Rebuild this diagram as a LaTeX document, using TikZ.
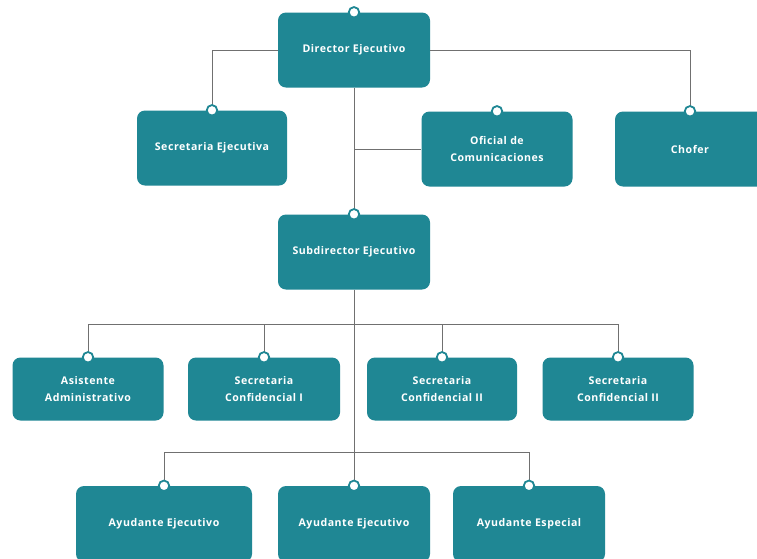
\documentclass[tikz,border=0pt]{standalone}
\usepackage{fontspec}
\setmainfont{Open Sans}[LetterSpace=5]
\usetikzlibrary{calc}
\definecolor{boxc}{HTML}{1F8794}
\definecolor{linec}{HTML}{707070}
\begin{document}
\begin{tikzpicture}[x=1pt,y=-1pt,
  box/.style={rounded corners=8pt, fill=boxc, text=white, align=center,
    inner sep=0pt, minimum height=75pt,
    font=\bfseries\fontsize{10.6}{16.5}\selectfont},
  lowbox/.style={box, minimum height=63pt},
  dot/.style={circle, draw=boxc, fill=white, line width=1.8pt,
    minimum size=10.5pt, inner sep=0pt},
  conn/.style={draw=linec, line width=0.9pt}]
\useasboundingbox (0,0) rectangle (757,558);
\clip (0,0) rectangle (757,558);
\fill[white] (0,0) rectangle (757,558);
% boxes
\node[box, minimum width=152pt] (dir) at (354,50) {Director Ejecutivo};
\node[box, minimum width=150pt] (sec) at (212,148) {Secretaria Ejecutiva};
\node[box, minimum width=151pt] (ofi) at (497,149) {Oficial de\\Comunicaciones};
\node[box, minimum width=150pt] (cho) at (690,149) {Chofer};
\node[box, minimum width=152pt] (sub) at (354,252) {Subdirector Ejecutivo};
\node[lowbox, minimum width=151pt] (asi) at (88,389) {Asistente\\Administrativo};
\node[lowbox, minimum width=152pt] (cf1) at (264,389) {Secretaria\\Confidencial I};
\node[lowbox, minimum width=150pt] (cf2) at (442,389) {Secretaria\\Confidencial II};
\node[lowbox, minimum width=151pt] (cf3) at (618,389) {Secretaria\\Confidencial II};
\node[box, minimum width=176pt, minimum height=76pt] (ay1) at (164,524) {Ayudante Ejecutivo};
\node[box, minimum width=152pt, minimum height=76pt] (ay2) at (354,524) {Ayudante Ejecutivo};
\node[box, minimum width=152pt, minimum height=76pt] (ay3) at (529,524) {Ayudante Especial};
% bus coordinates
\coordinate (bus1) at (dir.south |- ofi.west);
\coordinate (bus2) at (354,324);
\coordinate (bus3) at (354,452);
% connectors (drawn under the dots)
\draw[conn] (dir.west) -| (sec.north);
\draw[conn] (dir.east) -| (cho.north);
\draw[conn] (dir.south) -- (sub.north);
\draw[conn] (bus1) -- (ofi.west);
\draw[conn] (sub.south) -- (ay2.north);
\draw[conn] (bus2) -| (asi.north);
\draw[conn] (bus2) -| (cf1.north);
\draw[conn] (bus2) -| (cf2.north);
\draw[conn] (bus2) -| (cf3.north);
\draw[conn] (bus3) -| (ay1.north);
\draw[conn] (bus3) -| (ay3.north);
% dots
\foreach \n in {dir,sec,ofi,cho,sub,asi,cf1,cf2,cf3,ay1,ay2,ay3}
  \node[dot] (\n-dot) at (\n.north) {};
\end{tikzpicture}
\end{document}
